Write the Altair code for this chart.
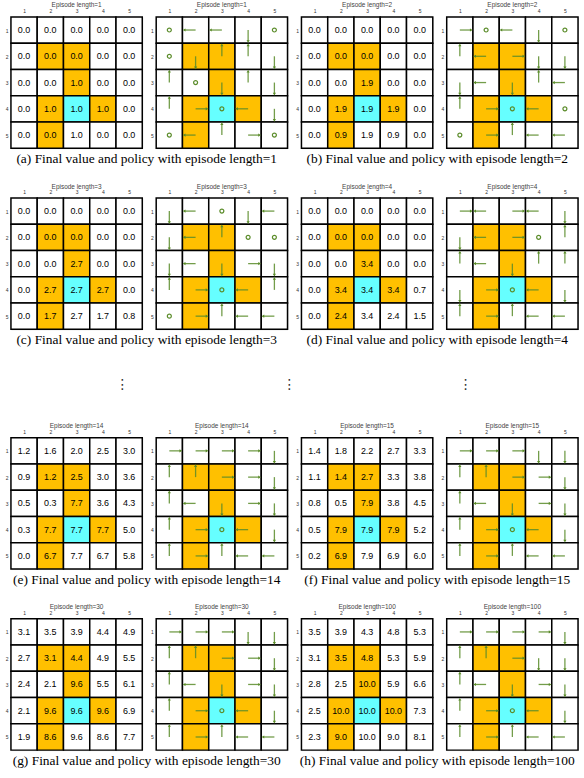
import altair as alt
import pandas as pd

episode_lengths = [1, 2, 3, 4, 14, 15, 30, 100]
caption_letters = ["a", "b", "c", "d", "e", "f", "g", "h"]
forbidden_cells = [(2, 2), (2, 3), (3, 3), (4, 2), (4, 4), (5, 2)]
target_cell = (4, 3)
axis_ticks = [1, 2, 3, 4, 5]

values_len1 = [[0.0, 0.0, 0.0, 0.0, 0.0],
               [0.0, 0.0, 0.0, 0.0, 0.0],
               [0.0, 0.0, 1.0, 0.0, 0.0],
               [0.0, 1.0, 1.0, 1.0, 0.0],
               [0.0, 0.0, 1.0, 0.0, 0.0]]
values_len2 = [[0.0, 0.0, 0.0, 0.0, 0.0],
               [0.0, 0.0, 0.0, 0.0, 0.0],
               [0.0, 0.0, 1.9, 0.0, 0.0],
               [0.0, 1.9, 1.9, 1.9, 0.0],
               [0.0, 0.9, 1.9, 0.9, 0.0]]
values_len3 = [[0.0, 0.0, 0.0, 0.0, 0.0],
               [0.0, 0.0, 0.0, 0.0, 0.0],
               [0.0, 0.0, 2.7, 0.0, 0.0],
               [0.0, 2.7, 2.7, 2.7, 0.0],
               [0.0, 1.7, 2.7, 1.7, 0.8]]
values_len4 = [[0.0, 0.0, 0.0, 0.0, 0.0],
               [0.0, 0.0, 0.0, 0.0, 0.0],
               [0.0, 0.0, 3.4, 0.0, 0.0],
               [0.0, 3.4, 3.4, 3.4, 0.7],
               [0.0, 2.4, 3.4, 2.4, 1.5]]
values_len14 = [[1.2, 1.6, 2.0, 2.5, 3.0],
                [0.9, 1.2, 2.5, 3.0, 3.6],
                [0.5, 0.3, 7.7, 3.6, 4.3],
                [0.3, 7.7, 7.7, 7.7, 5.0],
                [0.0, 6.7, 7.7, 6.7, 5.8]]
values_len15 = [[1.4, 1.8, 2.2, 2.7, 3.3],
                [1.1, 1.4, 2.7, 3.3, 3.8],
                [0.8, 0.5, 7.9, 3.8, 4.5],
                [0.5, 7.9, 7.9, 7.9, 5.2],
                [0.2, 6.9, 7.9, 6.9, 6.0]]
values_len30 = [[3.1, 3.5, 3.9, 4.4, 4.9],
                [2.7, 3.1, 4.4, 4.9, 5.5],
                [2.4, 2.1, 9.6, 5.5, 6.1],
                [2.1, 9.6, 9.6, 9.6, 6.9],
                [1.9, 8.6, 9.6, 8.6, 7.7]]
values_len100 = [[3.5, 3.9, 4.3, 4.8, 5.3],
                 [3.1, 3.5, 4.8, 5.3, 5.9],
                 [2.8, 2.5, 10.0, 5.9, 6.6],
                 [2.5, 10.0, 10.0, 10.0, 7.3],
                 [2.3, 9.0, 10.0, 9.0, 8.1]]

# U=up, D=down, L=left, R=right, O=stay
policy_len1 = ["O L L D O", "O D U U D", "U O D U D", "U R O L D", "O L U R O"]
policy_len2 = ["R O L D O", "U L R D D", "D L D U L", "U R O L O", "O R U L L"]
policy_len3 = ["D L O D L", "D L U O O", "D L D R D", "U R O L U", "O R U L L"]
policy_len4 = ["R L R L D", "D L R O U", "U L D U U", "D R O L D", "U R U L L"]
policy_len14 = ["R R R R D", "U U R R D", "U L D R D", "U R O L D", "U R U L L"]
policy_len15 = ["R R R D D", "U U R R D", "U L D R D", "U R O L D", "U R U L L"]
policy_len30 = ["R R R D D", "U U R R D", "U L D R D", "U R O L D", "U R U L L"]
policy_len100 = ["R R R R D", "U U R D D", "U L D R D", "U R O L D", "U R U L L"]

values_by_len = {1: values_len1, 2: values_len2, 3: values_len3, 4: values_len4,
                 14: values_len14, 15: values_len15, 30: values_len30, 100: values_len100}
policy_by_len = {1: policy_len1, 2: policy_len2, 3: policy_len3, 4: policy_len4,
                 14: policy_len14, 15: policy_len15, 30: policy_len30, 100: policy_len100}

directions = {"U": (0, -1, 0), "R": (1, 0, 90), "D": (0, 1, 180), "L": (-1, 0, 270), "O": (0, 0, 0)}

ORANGE = "#FFC000"
CYAN = "#66FFFF"
GREEN = "#5B8C2A"
ARROW_LEN = 0.42
GRID = 132


def grid_df(n):
    recs = []
    for r in range(5):
        acts = policy_by_len[n][r].split()
        for c in range(5):
            cell = (r + 1, c + 1)
            kind = "target" if cell == target_cell else ("forbidden" if cell in forbidden_cells else "normal")
            a = acts[c]
            dx, dy, ang = directions[a]
            recs.append(dict(row=r + 1, col=c + 1, kind=kind,
                             label=f"{values_by_len[n][r][c]:.1f}", act=a,
                             dx=dx, dy=dy, ang=ang))
    return pd.DataFrame(recs)


xs = alt.Scale(domain=[0.5, 5.5], nice=False, zero=False)
ys = alt.Scale(domain=[0.5, 5.5], nice=False, zero=False, reverse=True)
X_AX = alt.Axis(orient="top", values=axis_ticks, format="d", ticks=False, domain=False,
                grid=False, labelFontSize=5, labelPadding=3, title=None, labelColor="#333",
                labelFont="Liberation Sans")
Y_AX = alt.Axis(orient="left", values=axis_ticks, format="d", ticks=False, domain=False,
                grid=False, labelFontSize=5, labelPadding=3, title=None, labelColor="#333",
                labelFont="Liberation Sans")


def X(field):
    return alt.X(field, scale=xs, axis=X_AX)


def Y(field):
    return alt.Y(field, scale=ys, axis=Y_AX)


def cells(df):
    return alt.Chart(df).transform_calculate(
        x0="datum.col - 0.5", x1="datum.col + 0.5",
        y0="datum.row - 0.5", y1="datum.row + 0.5"
    ).mark_rect(stroke="black", strokeWidth=1.5).encode(
        x=X("x0:Q"), x2="x1:Q",
        y=Y("y0:Q"), y2="y1:Q",
        fill=alt.Fill("kind:N", scale=alt.Scale(domain=["normal", "forbidden", "target"],
                                                 range=["white", ORANGE, CYAN]), legend=None),
    )


def grid_title(n):
    return alt.TitleParams(f"Episode length={n}", fontSize=6.5, font="Liberation Sans",
                           fontWeight="normal", color="#444", offset=0, anchor="middle")


def value_chart(n):
    df = grid_df(n)
    txt = alt.Chart(df).mark_text(fontSize=9, font="Liberation Sans", color="black").encode(
        x=X("col:Q"), y=Y("row:Q"), text="label:N")
    return alt.layer(cells(df), txt).properties(width=GRID, height=GRID, title=grid_title(n))


def policy_chart(n):
    df = grid_df(n)
    moves = alt.Chart(df).transform_filter("datum.act != 'O'").transform_calculate(
        xe=f"datum.col + datum.dx * {ARROW_LEN}", ye=f"datum.row + datum.dy * {ARROW_LEN}")
    shaft = moves.mark_rule(color=GREEN, strokeWidth=1.3, opacity=0.85).encode(
        x=X("col:Q"), x2="xe:Q", y=Y("row:Q"), y2="ye:Q")
    head = moves.mark_point(shape="triangle", filled=True, size=10, color=GREEN, opacity=1).encode(
        x=X("xe:Q"), y=Y("ye:Q"), angle=alt.Angle("ang:Q", scale=None))
    stay = alt.Chart(df).transform_filter("datum.act == 'O'").mark_point(
        shape="circle", filled=False, size=16, strokeWidth=1.2, color=GREEN, opacity=1).encode(
        x=X("col:Q"), y=Y("row:Q"))
    return alt.layer(cells(df), shaft, head, stay).properties(width=GRID, height=GRID, title=grid_title(n))


def pair(i):
    n = episode_lengths[i]
    return alt.hconcat(value_chart(n), policy_chart(n), spacing=5).properties(
        title=alt.TitleParams(f"({caption_letters[i]}) Final value and policy with episode length={n}",
                              orient="bottom", font="Liberation Serif", fontSize=13.5,
                              fontWeight="normal", color="black", anchor="middle", offset=3))


def row(i):
    return alt.hconcat(pair(i), pair(i + 1), spacing=5)


dots_positions = [0.195, 0.487, 0.795]
dots = alt.Chart(pd.DataFrame({"p": dots_positions, "y": [0.5] * 3})).mark_text(
    text="⋮", fontSize=14, font="DejaVu Sans", color="#333").encode(
    x=alt.X("p:Q", scale=alt.Scale(domain=[0, 1]), axis=None),
    y=alt.Y("y:Q", scale=alt.Scale(domain=[0, 1]), axis=None)
).properties(width=575, height=40, view=alt.ViewBackground(stroke="transparent"))

chart = alt.vconcat(row(0), row(2), dots, row(4), row(6), spacing=17).configure_view(
    stroke="black", strokeWidth=2).configure(padding={"left": 4, "top": 0, "right": 0, "bottom": 0})

chart.save("out.html", embed_options={"renderer": "svg", "actions": False})
